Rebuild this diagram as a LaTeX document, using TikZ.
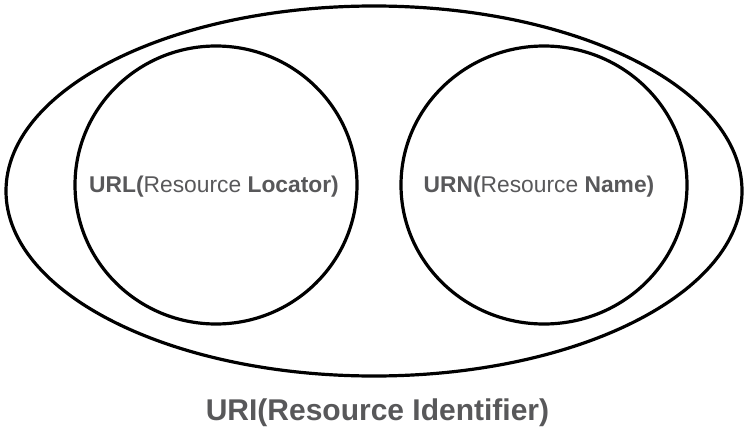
\documentclass[tikz,border=0pt]{standalone}
\usepackage{fontspec}
\setmainfont{Liberation Sans}
\definecolor{txtgray}{RGB}{88,88,90}
\begin{document}
\begin{tikzpicture}[x=1pt,y=-1pt,
  ring/.style={draw=black,line width=3.2pt},
  lbl/.style={text=txtgray,inner sep=0pt,font=\fontsize{22.8}{26}\selectfont},
  biglbl/.style={text=txtgray,inner sep=0pt,font=\bfseries\fontsize{30}{34}\selectfont}]
\useasboundingbox (0,0) rectangle (749,428);
\draw[ring] (374,191) ellipse [x radius=368, y radius=185];
\draw[ring] (216,185) ellipse [x radius=141, y radius=139];
\draw[ring] (544,185) ellipse [x radius=143, y radius=139];
\node[lbl] (url) at (214,187) {\textbf{URL(}Resource \textbf{Locator)}};
\node[lbl] (urn) at (539,187) {\textbf{URN(}Resource \textbf{Name)}};
\node[biglbl] (uri) at (377.5,413) {URI(Resource Identifier)};
\end{tikzpicture}
\end{document}
